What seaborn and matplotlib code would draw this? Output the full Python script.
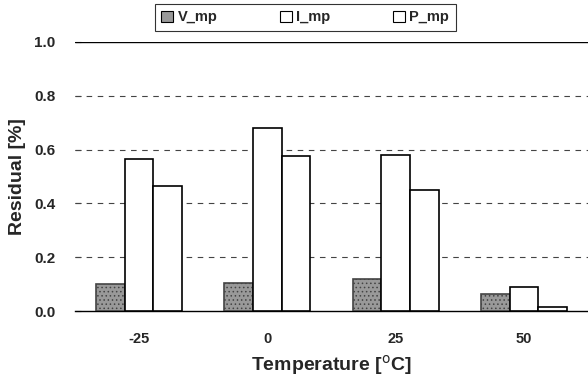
import matplotlib
matplotlib.use("Agg")
import matplotlib.pyplot as plt
import seaborn as sns
import pandas as pd

temperatures = ["-25", "0", "25", "50"]
series = ["V_mp", "I_mp", "P_mp"]
v_mp = [0.10, 0.105, 0.12, 0.062]
i_mp = [0.565, 0.68, 0.58, 0.09]
p_mp = [0.465, 0.575, 0.45, 0.015]
y_ticks = [0.0, 0.2, 0.4, 0.6, 0.8, 1.0]

rows = []
for name, vals in zip(series, [v_mp, i_mp, p_mp]):
    for t, v in zip(temperatures, vals):
        rows.append({"Temperature": t, "Series": name, "Residual": v})
df = pd.DataFrame(rows)

sns.set_style("white")
plt.rcParams["font.family"] = ["Liberation Sans", "DejaVu Sans"]
plt.rcParams["hatch.linewidth"] = 0.6

fig = plt.figure(figsize=(5.88, 3.81), dpi=100)
ax = fig.add_axes([0.1276, 0.1837, 0.8724, 0.7061])

palette = {"V_mp": "#999999", "I_mp": "white", "P_mp": "white"}
sns.barplot(data=df, x="Temperature", y="Residual", hue="Series", order=temperatures,
            hue_order=series, palette=palette, width=0.67, gap=0, ax=ax,
            edgecolor="black", linewidth=1.2, saturation=1, legend=True, zorder=3)

# texture on V_mp bars
for bar in ax.containers[0]:
    bar.set_hatch("....")
    bar.set_edgecolor("#444444")

ax.set_xlim(-0.5, 3.5)
ax.set_ylim(0, 1.0)
ax.set_yticks(y_ticks)
ax.set_yticklabels([f"{t:.1f}" for t in y_ticks], fontsize=11, fontweight="bold")
for lab in ax.get_xticklabels():
    lab.set_fontweight("bold")
    lab.set_fontsize(10.5)
ax.tick_params(axis="x", length=0, pad=15)
ax.tick_params(axis="y", length=4, direction="in", left=True, pad=14)

for y in [0.2, 0.4, 0.6, 0.8]:
    ax.axhline(y, color="#444444", linestyle=(0, (5, 5)), linewidth=0.8, zorder=1)
ax.axhline(1.0, color="black", linewidth=1.0, zorder=1)

for side in ["left", "right", "top"]:
    ax.spines[side].set_visible(False)
ax.spines["bottom"].set_color("black")
ax.spines["bottom"].set_linewidth(1.0)

ax.set_xlabel("Temperature [$^{\\mathrm{o}}$C]", fontsize=14, fontweight="bold", labelpad=5)
ax.set_ylabel("Residual [%]", fontsize=14, fontweight="bold", labelpad=6)

handles, labels = ax.get_legend_handles_labels()
for h in handles:
    h.set_linewidth(0.8)
leg = ax.legend(handles, labels, ncol=3, loc="upper center", bbox_to_anchor=(0.519, 0.99),
                bbox_transform=fig.transFigure, frameon=True, fancybox=False,
                edgecolor="black", prop={"weight": "bold", "size": 10.5},
                handlelength=0.8, handleheight=0.8, columnspacing=4.3, handletextpad=0.3,
                borderpad=0.45, borderaxespad=0)
leg.get_frame().set_linewidth(0.8)

fig.savefig("out.png", dpi=100)
